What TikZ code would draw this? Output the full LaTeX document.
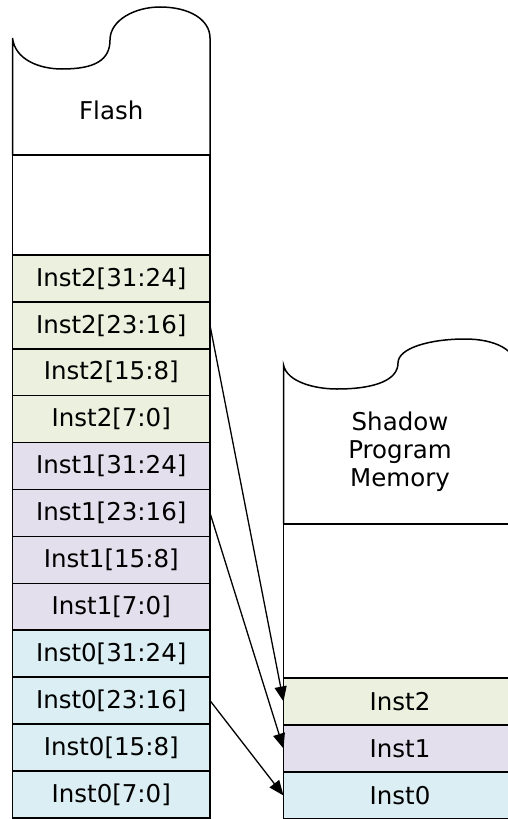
\documentclass[tikz,border=0pt]{standalone}
\usepackage{fontspec}
\setmainfont{DejaVu Sans}
\usetikzlibrary{positioning,arrows.meta}
\definecolor{instgreen}{HTML}{EBF1DE}
\definecolor{instpurple}{HTML}{E4DFEC}
\definecolor{instblue}{HTML}{DAEEF3}

\begin{document}
\begin{tikzpicture}[x=1pt, y=-1pt, line width=1.5pt,
    every node/.style={font=\fontsize{24.5}{28}\selectfont},
    cell/.style={draw, inner sep=0pt, outer sep=0pt, minimum width=197.5pt, minimum height=46.9pt},
    wide cell/.style={cell, minimum width=233pt, minimum height=47pt},
    map/.style={-{Triangle[length=15pt,width=12pt]}, line width=1.3pt},]
\useasboundingbox (0,0) rectangle (507,819);

% Flash
\draw (12.5,155) -- (12.5,38) .. controls (15,60) and (40,69) .. (62,69)
    .. controls (95,69) and (110,60) .. (110,40)
    .. controls (110,20) and (135,7) .. (160,7)
    .. controls (190,7) and (210,20) .. (210,38) -- (210,155);
\node (flash) at (111.25,110) {Flash};
\node[cell, minimum height=100pt] (flashgap) at (111.25,205) {};
\node[cell, fill=instgreen, below=0pt of flashgap] (f2a) {Inst2[31:24]};
\node[cell, fill=instgreen, below=0pt of f2a] (f2b) {Inst2[23:16]};
\node[cell, fill=instgreen, below=0pt of f2b] (f2c) {Inst2[15:8]};
\node[cell, fill=instgreen, below=0pt of f2c] (f2d) {Inst2[7:0]};
\node[cell, fill=instpurple, below=0pt of f2d] (f1a) {Inst1[31:24]};
\node[cell, fill=instpurple, below=0pt of f1a] (f1b) {Inst1[23:16]};
\node[cell, fill=instpurple, below=0pt of f1b] (f1c) {Inst1[15:8]};
\node[cell, fill=instpurple, below=0pt of f1c] (f1d) {Inst1[7:0]};
\node[cell, fill=instblue, below=0pt of f1d] (f0a) {Inst0[31:24]};
\node[cell, fill=instblue, below=0pt of f0a] (f0b) {Inst0[23:16]};
\node[cell, fill=instblue, below=0pt of f0b] (f0c) {Inst0[15:8]};
\node[cell, fill=instblue, below=0pt of f0c] (f0d) {Inst0[7:0]};

% Shadow Program Memory
\draw (283.5,524) -- (283.5,365) .. controls (287,382) and (315,389) .. (337,389)
    .. controls (375,389) and (398,380) .. (398,363)
    .. controls (398,348) and (430,339) .. (465,339)
    .. controls (495,339) and (516.5,350) .. (516.5,368) -- (516.5,524);
\node[align=center] (spm) at (400,452) {Shadow\\Program\\Memory};
\node[wide cell, minimum height=154pt] (spmgap) at (400,601) {};
\node[wide cell, fill=instgreen, below=0pt of spmgap] (s2) {Inst2};
\node[wide cell, fill=instpurple, below=0pt of s2] (s1) {Inst1};
\node[wide cell, fill=instblue, below=0pt of s1] (s0) {Inst0};

\draw[map] (f2b.east) -- (s2.west);
\draw[map] (f1b.east) -- (s1.west);
\draw[map] (f0b.east) -- (s0.west);

\end{tikzpicture}
\end{document}
